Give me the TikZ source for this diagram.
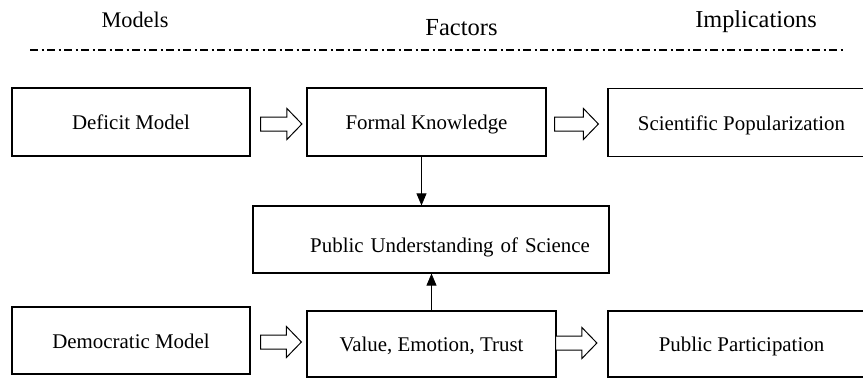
\documentclass[tikz,border=0pt]{standalone}
\usepackage{fontspec}
\setmainfont{Liberation Serif}
\usetikzlibrary{arrows.meta,calc}
\begin{document}
\begin{tikzpicture}[x=1pt,y=-1pt,
  boxfont/.style={font=\fontsize{20.9}{25}\selectfont},
  box/.style={draw=black, line width=1.2pt, inner sep=0pt, boxfont,
    text height=15pt, text depth=0pt},
  head/.style={anchor=base, inner sep=0pt},
  link/.style={draw=black, line width=0.75pt,
    -{Triangle[length=12pt,width=10pt]}},
  hollow/.style={draw=black, line width=1pt, fill=white, line join=miter,
    to path={let \p1=(\tikztostart), \p2=(\tikztotarget) in
      (\x1,\y1+7pt) -- (\x2-15pt,\y1+7pt) -- (\x2-15pt,\y1+15.5pt) --
      (\x2,\y1) -- (\x2-15pt,\y1-15.5pt) -- (\x2-15pt,\y1-7pt) --
      (\x1,\y1-7pt) -- cycle}},
  rule/.style={draw=black, line width=1.2pt,
    dash pattern=on 8pt off 3.5pt on 2pt off 3.5pt}
]
\useasboundingbox (0,0) rectangle (863,378);
\clip (0,0) rectangle (863,378);

% column headings
\node[head, font=\fontsize{22.3}{26}\selectfont] (hModels) at (135,27) {Models};
\node[head, font=\fontsize{24.5}{28}\selectfont] (hFactors) at (461.5,35) {Factors};
\node[head, font=\fontsize{24.3}{28}\selectfont] (hImpl) at (756,27) {Implications};

% dash-dot rule under the headings
\coordinate (ruleL) at (30,50);
\coordinate (ruleR) at (845,50);
\draw[rule] (ruleL) -- (ruleR);

% upper row
\node[box, minimum width=238pt, minimum height=68pt] (deficit) at (131,122) {Deficit Model};
\node[box, minimum width=239pt, minimum height=68pt] (formal) at (426.5,122) {Formal Knowledge};
\node[box, minimum width=267pt, minimum height=68pt] (sci) at (741.5,122.5) {Scientific Popularization};

% centre box (text set towards the right)
\node[draw=black, line width=1.2pt, boxfont, minimum width=356pt, minimum height=67pt,
  inner xsep=19pt, inner ysep=0pt, text width=318pt, align=right,
  text height=30pt, text depth=5pt] (pus) at (431,239.5) {Public Understanding of Science};

% lower row
\node[box, minimum width=238pt, minimum height=67pt] (dem) at (131,340.5) {Democratic Model};
\node[box, minimum width=249pt, minimum height=66pt] (value) at (431.5,344) {Value, Emotion, Trust};
\node[box, minimum width=267pt, minimum height=66pt] (part) at (741.5,344) {Public Participation};

% hollow block arrows
\draw[hollow] ($(deficit.east)+(10,2)$) to ($(formal.west)+(-4.5,2)$);
\draw[hollow] ($(formal.east)+(8,2)$) to ($(sci.west)+(-9,2)$);
\draw[hollow] ($(dem.east)+(10,1.5)$) to ($(value.west)+(-5,1.5)$);
\draw[hollow] ($(value.east)+(-1,-1)$) to ($(part.west)+(-10.5,-1)$);

% thin arrows into the centre box
\draw[link] ([xshift=-5pt]formal.south) -- ([xshift=-5pt]formal.south |- pus.north);
\draw[link] (value.north) -- (value.north |- pus.south);
\end{tikzpicture}
\end{document}
